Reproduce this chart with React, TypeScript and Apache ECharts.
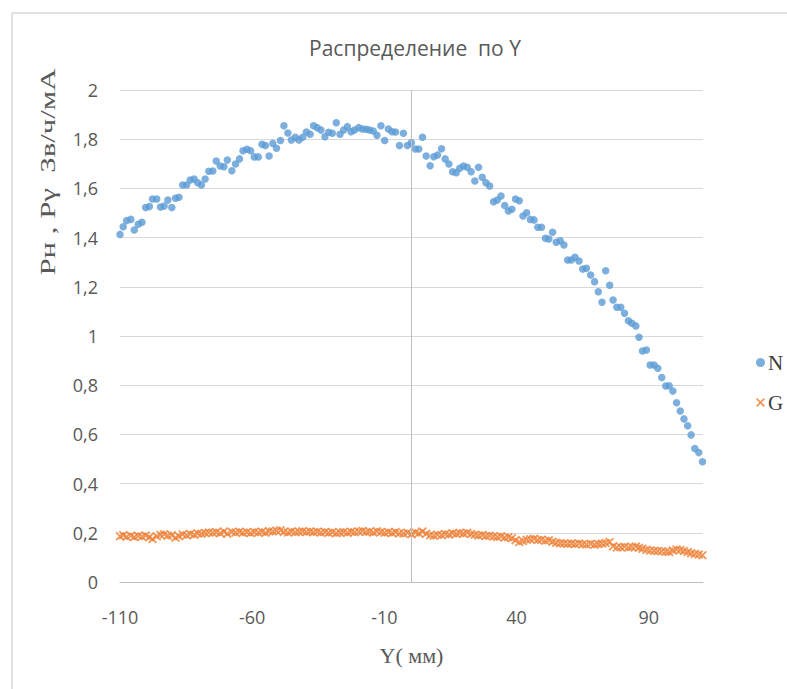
import React, { useEffect, useRef } from "react";
import * as echarts from "echarts";

const xPositions: number[] = [
  -110.0, -108.8, -107.5, -105.9, -104.6, -103.1, -101.7, -100.3,
  -98.9, -97.7, -96.1, -94.7, -93.3, -91.9, -90.4,
  -89.0, -87.7, -86.3, -84.8, -83.4, -82.0, -80.6,
  -79.2, -77.8, -76.4, -74.9, -73.6, -72.1, -70.7,
  -69.4, -67.7, -66.3, -64.8, -63.5, -62.0, -60.6,
  -59.2, -57.7, -56.3, -55.0, -53.6, -52.2, -50.8,
  -49.3, -48.0, -46.5, -45.2, -43.7, -42.3, -40.9,
  -39.5, -38.1, -36.8, -35.4, -34.0, -32.5, -31.1,
  -29.7, -28.2, -26.8, -25.4, -24.0, -22.6, -21.3,
  -19.7, -18.3, -16.9, -15.6, -14.2, -12.8, -11.3,
  -9.9, -8.5, -7.1, -5.8, -4.3, -2.8, -1.3,
  0.2, 1.7, 3.0, 4.4, 5.8, 7.3, 8.7,
  10.1, 11.6, 13.0, 14.4, 15.8, 17.2, 18.5,
  19.9, 21.3, 22.8, 24.2, 25.6, 27.0, 28.4,
  29.8, 31.3, 32.7, 34.1, 35.5, 36.9, 38.2,
  39.6, 41.0, 42.4, 43.8, 45.2, 46.6, 48.0,
  49.4, 50.9, 52.2, 53.6, 55.0, 56.5, 57.9,
  59.3, 60.7, 62.1, 63.6, 65.0, 66.4, 68.0,
  69.5, 70.9, 72.3, 73.7, 75.2, 76.5, 77.9,
  79.4, 80.8, 82.3, 83.6, 85.1, 86.3, 87.6,
  89.1, 90.5, 92.0, 93.4, 94.9, 96.4, 97.7,
  99.1, 100.5, 101.9, 103.3, 104.7, 106.0, 107.4, 108.9, 110.3,
];

const nValues: number[] = [
  1.413, 1.444, 1.469, 1.474, 1.431, 1.454, 1.462, 1.522,
  1.526, 1.557, 1.557, 1.524, 1.528, 1.553, 1.522,
  1.560, 1.564, 1.614, 1.614, 1.634, 1.638, 1.623,
  1.614, 1.638, 1.670, 1.671, 1.711, 1.691, 1.688,
  1.715, 1.672, 1.699, 1.720, 1.753, 1.759, 1.753,
  1.728, 1.728, 1.779, 1.774, 1.732, 1.783, 1.763,
  1.795, 1.855, 1.825, 1.797, 1.808, 1.797, 1.808,
  1.829, 1.820, 1.855, 1.847, 1.837, 1.810, 1.828,
  1.824, 1.867, 1.820, 1.837, 1.851, 1.830, 1.837,
  1.847, 1.841, 1.840, 1.837, 1.833, 1.816, 1.855,
  1.795, 1.841, 1.830, 1.829, 1.774, 1.824, 1.774,
  1.786, 1.760, 1.760, 1.808, 1.732, 1.692, 1.729,
  1.736, 1.761, 1.720, 1.699, 1.668, 1.664, 1.682,
  1.691, 1.686, 1.668, 1.630, 1.686, 1.645, 1.623,
  1.610, 1.546, 1.553, 1.569, 1.530, 1.508, 1.515,
  1.557, 1.550, 1.488, 1.501, 1.474, 1.472, 1.442,
  1.442, 1.397, 1.394, 1.422, 1.381, 1.387, 1.370,
  1.309, 1.309, 1.320, 1.305, 1.272, 1.275, 1.248,
  1.221, 1.180, 1.137, 1.265, 1.206, 1.146, 1.117,
  1.117, 1.092, 1.062, 1.052, 1.041, 0.995, 0.939,
  0.943, 0.882, 0.882, 0.869, 0.831, 0.797, 0.798,
  0.776, 0.729, 0.695, 0.663, 0.635, 0.598, 0.543, 0.526, 0.489,
];

const gValues: number[] = [
  0.186, 0.190, 0.184, 0.188, 0.183, 0.187, 0.185, 0.189,
  0.182, 0.175, 0.186, 0.192, 0.194, 0.188, 0.190,
  0.180, 0.186, 0.193, 0.190, 0.195, 0.192, 0.197,
  0.196, 0.199, 0.201, 0.200, 0.202, 0.198, 0.205,
  0.196, 0.203, 0.201, 0.204, 0.200, 0.202, 0.199,
  0.203, 0.201, 0.204, 0.200, 0.206, 0.205, 0.208,
  0.210, 0.203, 0.201, 0.205, 0.202, 0.204, 0.206,
  0.203, 0.205, 0.202, 0.204, 0.201, 0.203, 0.200,
  0.202, 0.198, 0.201, 0.203, 0.200, 0.204, 0.202,
  0.205, 0.207, 0.203, 0.204, 0.201, 0.206, 0.203,
  0.200, 0.202, 0.199, 0.203, 0.198, 0.197, 0.200,
  0.194, 0.201, 0.198, 0.205, 0.196, 0.190, 0.188,
  0.192, 0.191, 0.195, 0.193, 0.198, 0.196, 0.199,
  0.197, 0.200, 0.195, 0.192, 0.189, 0.191, 0.187,
  0.188, 0.185, 0.183, 0.186, 0.181, 0.182, 0.178,
  0.170, 0.163, 0.167, 0.172, 0.174, 0.176, 0.171,
  0.172, 0.168, 0.170, 0.164, 0.160, 0.158, 0.157,
  0.155, 0.156, 0.154, 0.157, 0.153, 0.152, 0.155,
  0.151, 0.154, 0.156, 0.159, 0.163, 0.145, 0.140,
  0.141, 0.143, 0.140, 0.142, 0.144, 0.139, 0.135,
  0.131, 0.128, 0.127, 0.126, 0.125, 0.123, 0.122,
  0.128, 0.132, 0.130, 0.126, 0.122, 0.117, 0.114, 0.112, 0.109,
];

const seriesNames = ["N", "G"];
const chartTitle = "Распределение  по Y";
const xAxisTitle = "Y( мм)";
const yAxisTitle = "Pн , Pγ  Зв/ч/мА";

const crossPath =
  "path://M0,1.4L1.4,0L5,3.6L8.6,0L10,1.4L6.4,5L10,8.6L8.6,10L5,6.4L1.4,10L0,8.6L3.6,5Z";

export default function App() {
  const ref = useRef<HTMLDivElement>(null);

  useEffect(() => {
    if (!ref.current) return;
    document.body.style.margin = "0";
    document.body.style.overflow = "hidden";
    const chart = echarts.init(ref.current, null, { renderer: "svg" });
    const nData = xPositions.map((x, i) => [x, nValues[i]]).filter((p) => p[1] !== undefined);
    const gData = xPositions.map((x, i) => [x, gValues[i]]).filter((p) => p[1] !== undefined);
    const sans = "'Open Sans', 'Noto Sans', sans-serif";
    const serif = "'Liberation Serif', 'DejaVu Serif', serif";

    chart.setOption({
      animation: false,
      backgroundColor: "#ffffff",
      title: {
        text: chartTitle,
        left: 410,
        textAlign: "center",
        top: 32,
        textStyle: { fontFamily: sans, fontSize: 21, fontWeight: "normal", color: "#595959" },
      },
      grid: { left: 120, right: 84, top: 90, bottom: 107, containLabel: false },
      legend: {
        orient: "vertical",
        left: 751,
        top: 347,
        itemGap: 19,
        itemWidth: 9,
        itemHeight: 9,
        data: [
          { name: seriesNames[0], icon: "circle" },
          { name: seriesNames[1], icon: crossPath },
        ],
        textStyle: { fontFamily: serif, fontSize: 21, color: "#404040", padding: [0, 0, 0, -2] },
      },
      xAxis: {
        type: "value",
        min: -110,
        max: 110.5,
        interval: 50,
        name: xAxisTitle,
        nameLocation: "middle",
        nameGap: 62,
        nameTextStyle: { fontFamily: serif, fontSize: 22, color: "#595959" },
        axisLine: { show: true, lineStyle: { color: "#bfbfbf", width: 1 } },
        axisTick: { show: false },
        splitLine: { show: false },
        axisLabel: {
          margin: 26,
          showMaxLabel: false,
          fontFamily: sans,
          fontSize: 18,
          color: "#595959",
          formatter: (v: number) => (Math.abs((v + 110) % 50) < 1e-6 ? String(v) : ""),
        },
      },
      yAxis: {
        type: "value",
        min: 0,
        max: 2,
        interval: 0.2,
        axisLine: { show: false },
        axisTick: { show: false },
        splitLine: { show: true, lineStyle: { color: "#d9d9d9", width: 1 } },
        axisLabel: {
          margin: 22,
          fontFamily: sans,
          fontSize: 18,
          color: "#595959",
          formatter: (v: number) => String(Math.round(v * 10) / 10).replace(".", ","),
        },
      },
      graphic: [
        {
          type: "line",
          shape: { x1: 12, y1: 13, x2: 787, y2: 13 },
          style: { stroke: "#d9d9d9", lineWidth: 1.5 },
          silent: true,
        },
        {
          type: "line",
          shape: { x1: 12, y1: 13, x2: 12, y2: 689 },
          style: { stroke: "#d9d9d9", lineWidth: 1.5 },
          silent: true,
        },
        {
          type: "text",
          x: 48,
          y: 172,
          rotation: Math.PI / 2,
          scaleX: 1.4,
          style: {
            text: yAxisTitle,
            fontFamily: serif,
            fontSize: 22,
            fill: "#595959",
            align: "center",
            verticalAlign: "middle",
          },
        },
      ],
      series: [
        {
          name: seriesNames[0],
          type: "scatter",
          data: nData,
          symbol: "circle",
          symbolSize: 7.5,
          itemStyle: { color: "#5b9bd5" },
          z: 3,
          markLine: {
            silent: true,
            symbol: "none",
            label: { show: false },
            lineStyle: { color: "#bfbfbf", type: "solid", width: 1 },
            data: [{ xAxis: 0 }],
          },
        },
        {
          name: seriesNames[1],
          type: "scatter",
          data: gData,
          symbol: crossPath,
          symbolSize: 9,
          itemStyle: { color: "#ed7d31" },
          z: 2,
        },
      ],
    });
    return () => chart.dispose();
  }, []);

  return <div ref={ref} style={{ width: 787, height: 689 }} />;
}
